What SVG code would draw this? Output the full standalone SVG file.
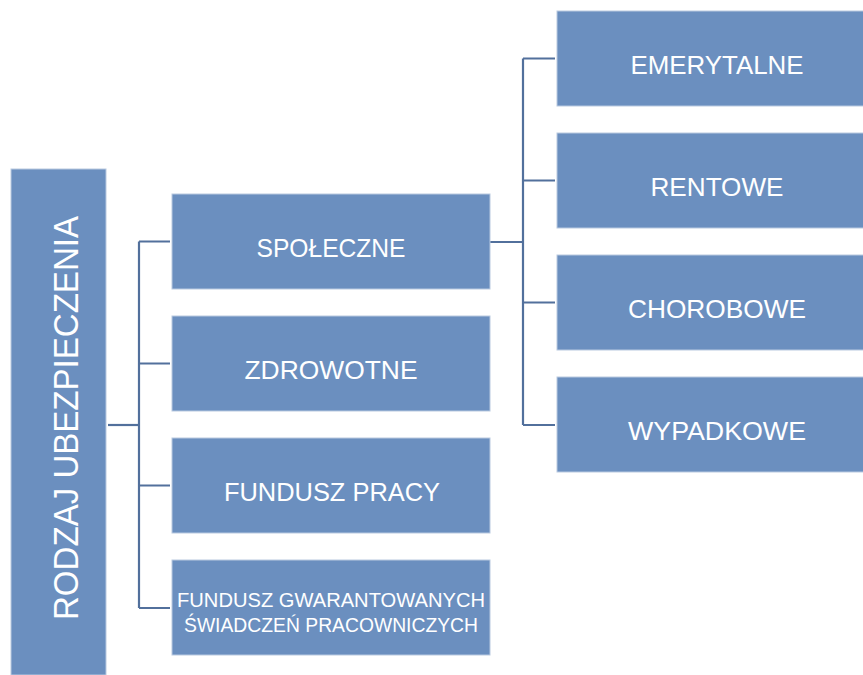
<svg xmlns="http://www.w3.org/2000/svg" width="863" height="675" viewBox="0 0 863 675">
  <style>
    .box { fill: #6b8fbf; stroke: #b9c9e0; stroke-width: 1; }
    .lbl { fill: #ffffff; font-family: "Liberation Sans", "Open Sans", sans-serif; font-size: 26.5px; text-anchor: middle; }
    .small { font-size: 19.5px; }
    .root { font-size: 35px; }
    .conn { fill: none; stroke: #52709c; stroke-width: 2.2; }
  </style>

  <!-- tree connectors -->
  <g id="connectors">
    <path class="conn" d="M108 425 H139"/>
    <path class="conn" d="M139 241.5 V608 M139 241.5 H170 M139 363.5 H170 M139 485.5 H170 M139 608 H170"/>
    <path class="conn" d="M490 242 H523"/>
    <path class="conn" d="M523 58.5 V425 M523 58.5 H555 M523 180.5 H555 M523 302.5 H555 M523 425 H555"/>
  </g>

  <g id="root">
    <rect class="box" x="11" y="169" width="95" height="506"/>
    <text class="lbl root" transform="translate(78 418) rotate(-90)" textLength="404" lengthAdjust="spacingAndGlyphs">RODZAJ UBEZPIECZENIA</text>
  </g>

  <g id="spoleczne">
    <rect class="box" x="172" y="194" width="318" height="95"/>
    <text class="lbl" x="331" y="256.5" textLength="149" lengthAdjust="spacingAndGlyphs">SPOŁECZNE</text>
  </g>
  <g id="zdrowotne">
    <rect class="box" x="172" y="316" width="318" height="95"/>
    <text class="lbl" x="331" y="378.5" textLength="173" lengthAdjust="spacingAndGlyphs">ZDROWOTNE</text>
  </g>
  <g id="fundusz-pracy">
    <rect class="box" x="172" y="438" width="318" height="95"/>
    <text class="lbl" x="332" y="500.5" textLength="216" lengthAdjust="spacingAndGlyphs">FUNDUSZ PRACY</text>
  </g>
  <g id="fgsp">
    <rect class="box" x="172" y="560" width="318" height="95"/>
    <text class="lbl small" x="331" y="607" textLength="308" lengthAdjust="spacingAndGlyphs">FUNDUSZ GWARANTOWANYCH</text>
    <text class="lbl small" x="331" y="632" textLength="294" lengthAdjust="spacingAndGlyphs">ŚWIADCZEŃ PRACOWNICZYCH</text>
  </g>

  <g id="emerytalne">
    <rect class="box" x="557" y="11" width="320" height="95"/>
    <text class="lbl" x="717" y="73.5" textLength="173" lengthAdjust="spacingAndGlyphs">EMERYTALNE</text>
  </g>
  <g id="rentowe">
    <rect class="box" x="557" y="133" width="320" height="95"/>
    <text class="lbl" x="717" y="195.5" textLength="133" lengthAdjust="spacingAndGlyphs">RENTOWE</text>
  </g>
  <g id="chorobowe">
    <rect class="box" x="557" y="255" width="320" height="95"/>
    <text class="lbl" x="717" y="317.5" textLength="178" lengthAdjust="spacingAndGlyphs">CHOROBOWE</text>
  </g>
  <g id="wypadkowe">
    <rect class="box" x="557" y="377" width="320" height="95"/>
    <text class="lbl" x="717" y="440" textLength="178" lengthAdjust="spacingAndGlyphs">WYPADKOWE</text>
  </g>
</svg>
